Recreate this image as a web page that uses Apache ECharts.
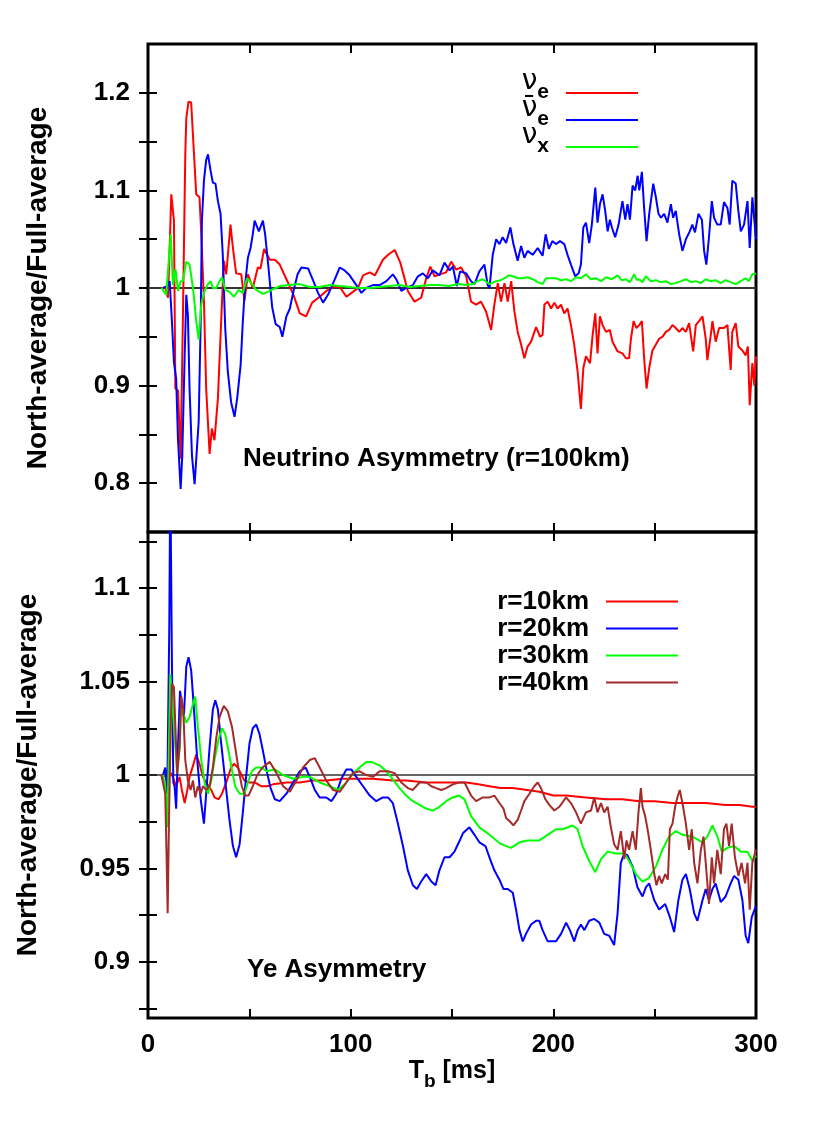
<!DOCTYPE html>
<html>
<head>
<meta charset="utf-8">
<script src="https://cdn.jsdelivr.net/npm/echarts@6/dist/echarts.min.js"></script>
<style>html,body{margin:0;padding:0;background:#fff}#c{width:830px;height:1140px}</style>
</head>
<body>
<div id="c"></div>
<script>
// ---------- tick labels ----------
const xTicks = [0, 50, 100, 150, 200, 250, 300];
const xLabels = [0, 100, 200, 300];
const yTopTicks = [0.8, 0.85, 0.9, 0.95, 1.0, 1.05, 1.1, 1.15, 1.2];
const yTopLabels = [0.8, 0.9, 1.0, 1.1, 1.2];
const yBotTicks = [0.875, 0.9, 0.925, 0.95, 0.975, 1.0, 1.025, 1.05, 1.075, 1.1, 1.125];
const yBotLabels = [0.9, 0.95, 1.0, 1.05, 1.1];
const refLine = [[0, 1], [300, 1]];

// ---------- top panel: Neutrino asymmetry (r=100km) ----------
const nuE = [[6.5,1.0],[8.5,1.0],[9.9,0.99],[11.5,1.096],[12.8,1.069],[13.5,0.897],[14.8,0.895],[16.1,0.825],[17.2,0.966],[18.4,1.137],[18.9,1.174],[20.0,1.191],[21.3,1.19],[22.7,1.137],[23.8,1.096],[25.4,1.093],[26.3,1.055],[27.6,0.987],[28.7,0.897],[30.4,0.83],[31.5,0.856],[32.8,0.844],[34.5,0.887],[36.1,0.966],[37.4,1.028],[38.6,1.014],[40.7,1.065],[41.9,1.041],[43.5,1.015],[46.0,1.014],[47.6,0.987],[49.3,1.014],[51.7,1.0],[54.2,1.021],[55.5,1.02],[57.3,1.04],[60.1,1.029],[62.6,1.029],[65.0,1.024],[68.3,1.009],[71.6,0.994],[74.9,0.974],[78.0,0.971],[81.0,0.985],[84.7,0.991],[88.0,0.997],[91.3,1.001],[94.6,1.001],[97.9,0.991],[101.1,0.996],[103.6,1.0],[106.1,1.013],[109.4,1.016],[112.0,1.013],[115.9,1.029],[118.5,1.034],[121.7,1.039],[124.5,1.026],[128.2,0.997],[131.5,0.986],[134.8,0.99],[137.3,1.01],[139.3,1.022],[141.4,1.012],[144.0,1.014],[147.1,1.016],[149.6,1.027],[152.0,1.019],[154.5,1.021],[157.0,1.012],[159.4,0.986],[161.9,0.983],[164.3,0.986],[166.8,0.976],[169.3,0.957],[170.9,0.983],[172.6,1.005],[174.2,0.986],[175.9,1.005],[177.5,0.986],[179.2,1.007],[180.8,0.976],[182.4,0.955],[184.1,0.942],[185.7,0.928],[187.3,0.94],[189.0,0.945],[191.5,0.96],[193.5,0.95],[194.7,0.952],[195.6,0.983],[197.2,0.986],[198.9,0.979],[200.5,0.985],[202.1,0.979],[203.8,0.983],[205.4,0.974],[207.0,0.979],[208.7,0.962],[210.3,0.942],[212.0,0.914],[213.6,0.876],[214.8,0.918],[216.1,0.93],[218.1,0.923],[219.4,0.952],[220.7,0.974],[221.8,0.933],[223.0,0.971],[224.3,0.962],[226.0,0.955],[227.9,0.957],[229.2,0.945],[231.7,0.935],[234.1,0.933],[235.8,0.928],[237.4,0.928],[238.3,0.948],[239.6,0.966],[241.0,0.959],[242.4,0.962],[243.7,0.966],[244.8,0.928],[246.0,0.897],[247.3,0.918],[248.9,0.936],[250.6,0.942],[252.2,0.948],[253.8,0.95],[255.5,0.955],[257.1,0.957],[258.8,0.962],[260.4,0.959],[262.1,0.955],[263.7,0.959],[265.4,0.955],[267.0,0.964],[269.0,0.935],[270.3,0.962],[271.9,0.966],[273.6,0.971],[275.2,0.948],[276.0,0.926],[277.7,0.952],[278.5,0.966],[280.1,0.945],[281.8,0.959],[284.2,0.959],[285.9,0.962],[287.5,0.916],[288.3,0.955],[290.0,0.964],[291.3,0.94],[293.3,0.936],[294.9,0.931],[296.0,0.94],[296.9,0.88],[298.2,0.923],[299.2,0.9],[300,0.93]];

const nuEbar = [[7.4,1.0],[9.5,1.002],[10.7,1.007],[11.8,0.966],[12.8,0.924],[13.9,0.907],[14.8,0.845],[16.1,0.794],[16.9,0.828],[18.1,0.931],[18.9,0.993],[19.7,0.972],[20.5,0.897],[21.7,0.828],[23.0,0.799],[23.8,0.8],[25.0,0.863],[26.0,0.966],[26.6,1.069],[27.6,1.11],[28.7,1.131],[29.6,1.137],[30.9,1.12],[32.0,1.108],[33.3,1.107],[34.5,1.089],[35.8,1.076],[36.9,1.034],[38.1,0.959],[39.4,0.914],[41.0,0.883],[42.7,0.868],[44.0,0.887],[45.7,0.921],[46.8,0.966],[47.9,1.003],[49.3,1.031],[50.6,1.041],[51.7,1.055],[52.6,1.069],[53.4,1.069],[54.7,1.058],[56.7,1.069],[57.8,1.055],[59.3,1.024],[61.3,0.98],[63.0,0.963],[65.0,0.96],[66.3,0.95],[68.3,0.971],[70.0,0.979],[71.6,0.995],[73.8,1.014],[75.7,1.021],[79.0,1.02],[81.4,1.008],[83.9,0.995],[86.4,0.985],[88.8,0.993],[92.0,1.008],[94.6,1.021],[97.0,1.018],[99.5,1.013],[102.8,1.003],[105.3,0.995],[107.7,1.0],[111.0,1.003],[114.3,1.003],[117.6,1.007],[120.8,1.014],[122.5,1.009],[125.0,0.997],[127.4,1.0],[130.7,1.003],[133.2,1.012],[135.6,1.015],[138.1,1.01],[140.5,1.018],[143.8,1.013],[146.3,1.026],[148.8,1.018],[150.4,1.022],[152.4,1.002],[154.0,1.017],[157.0,1.015],[159.4,1.007],[161.1,1.004],[163.5,1.017],[166.0,1.024],[167.6,1.003],[168.5,1.0],[170.1,1.034],[171.8,1.05],[173.4,1.045],[175.0,1.052],[176.7,1.046],[178.8,1.062],[180.3,1.045],[182.4,1.028],[184.1,1.043],[185.7,1.031],[187.3,1.038],[189.8,1.034],[192.3,1.041],[194.7,1.033],[196.2,1.055],[197.8,1.04],[199.5,1.048],[201.3,1.045],[203.3,1.048],[205.4,1.045],[207.0,1.034],[208.7,1.024],[210.8,1.012],[212.5,1.015],[213.6,1.024],[214.8,1.062],[216.1,1.067],[217.7,1.046],[219.0,1.065],[220.7,1.103],[221.8,1.067],[223.0,1.086],[224.3,1.096],[225.6,1.079],[226.8,1.058],[227.9,1.07],[228.9,1.062],[230.5,1.052],[232.2,1.065],[233.3,1.079],[234.1,1.089],[235.5,1.07],[236.6,1.086],[237.8,1.07],[239.1,1.105],[240.4,1.1],[241.6,1.115],[242.4,1.1],[243.7,1.119],[244.8,1.082],[246.0,1.048],[247.3,1.076],[249.3,1.107],[250.6,1.093],[251.9,1.076],[253.1,1.072],[254.7,1.076],[256.3,1.067],[258.0,1.086],[259.1,1.072],[260.4,1.079],[262.1,1.055],[263.7,1.038],[265.4,1.05],[267.3,1.058],[268.6,1.065],[269.9,1.057],[271.6,1.076],[273.3,1.07],[274.4,1.038],[275.5,1.024],[276.8,1.052],[278.2,1.089],[279.3,1.072],[280.9,1.065],[282.6,1.065],[284.2,1.088],[285.9,1.082],[287.0,1.065],[288.3,1.11],[290.0,1.107],[291.3,1.079],[292.5,1.058],[294.1,1.065],[295.8,1.089],[296.9,1.041],[298.2,1.093],[300,1.05]];

const nuX = [[6.6,1.0],[9.0,0.993],[11.2,1.055],[12.3,1.003],[13.6,1.019],[14.8,0.997],[16.1,1.007],[17.2,1.007],[18.9,1.027],[20.5,1.024],[22.2,1.0],[23.8,0.966],[25.0,0.947],[26.3,0.983],[27.6,0.995],[29.2,1.003],[30.9,1.007],[32.0,1.0],[33.7,1.0],[35.3,1.007],[36.5,1.011],[38.1,0.998],[40.2,0.996],[42.4,0.991],[44.7,0.998],[46.8,0.995],[48.9,1.01],[50.9,1.005],[53.4,0.998],[56.7,0.994],[59.1,0.996],[62.0,0.999],[65.0,1.002],[69.9,1.003],[74.9,1.004],[79.8,1.001],[84.7,1.001],[89.7,1.003],[94.6,1.002],[99.5,1.001],[104.4,1.0],[109,1.0],[114.3,1.001],[119,1.002],[124.1,1.003],[129,1.001],[134.0,1.002],[139,1.003],[143.8,1.003],[148.5,1.002],[153.4,1.004],[157,1.003],[160.3,1.004],[162.5,1.007],[165.2,1.009],[168.5,1.004],[171.8,1.007],[174,1.008],[176.7,1.011],[178,1.013],[180.0,1.012],[182.5,1.01],[184.9,1.01],[187.3,1.011],[189.8,1.009],[192.2,1.006],[194.7,1.004],[196.4,1.01],[199.7,1.01],[201.3,1.01],[203.8,1.008],[206.3,1.009],[208.7,1.007],[211.2,1.011],[213.6,1.01],[216.1,1.014],[218.5,1.009],[221.0,1.01],[223.5,1.007],[226.0,1.011],[228.8,1.009],[231.7,1.013],[233.8,1.008],[235.8,1.009],[237.8,1.006],[239.9,1.014],[241.2,1.008],[242.4,1.009],[244.0,1.006],[245.6,1.012],[248.1,1.007],[250.6,1.008],[253,1.006],[255.5,1.007],[258,1.004],[260.4,1.005],[263,1.007],[265.4,1.009],[268,1.006],[270.3,1.007],[272.7,1.005],[275.2,1.009],[277.6,1.007],[280.1,1.008],[282.5,1.005],[285.0,1.008],[287.5,1.006],[290.0,1.004],[292.5,1.007],[294.9,1.01],[296.5,1.007],[298.2,1.014],[300,1.015]];

// ---------- bottom panel: Ye asymmetry ----------
const r10 = [[6.6,1.0],[9.0,0.999],[11.5,1.001],[13.9,0.994],[15.6,0.999],[16.7,0.992],[18.1,0.985],[19.4,0.992],[20.5,0.999],[22.2,1.005],[23.8,1.011],[25.4,1.006],[27.1,0.999],[28.7,0.996],[31.2,0.992],[32.8,0.988],[34.8,0.987],[36.5,0.99],[38.6,0.996],[41.0,1.004],[42.4,1.006],[44.3,1.004],[47.6,0.997],[50.1,0.996],[52.6,0.996],[55.8,0.994],[58.8,0.994],[61.7,0.995],[68.3,0.996],[74.9,0.996],[81.4,0.997],[88.0,0.997],[96.2,0.998],[104.4,0.998],[111,0.998],[120.8,0.997],[127.4,0.997],[137.3,0.996],[143.8,0.996],[153.7,0.996],[157,0.996],[163,0.995],[168.5,0.994],[174,0.993],[180.0,0.993],[187,0.992],[193.1,0.991],[200,0.989],[206.3,0.989],[216,0.988],[226.0,0.987],[234,0.987],[242.4,0.986],[250,0.986],[258.8,0.985],[267,0.985],[275.2,0.985],[285,0.984],[292,0.984],[298.2,0.983],[300,0.983]];

const r20 = [[7.4,1.0],[8.5,1.004],[9.5,0.99],[10.5,1.079],[11.0,1.16],[11.8,1.061],[12.5,0.996],[13.1,0.994],[13.9,0.982],[14.8,1.015],[15.8,1.045],[16.7,1.044],[17.7,1.031],[18.9,1.058],[20.0,1.063],[21.3,1.056],[22.7,1.035],[24.3,1.008],[26.0,0.987],[27.6,0.974],[28.7,0.99],[30.4,1.015],[32.0,1.035],[33.2,1.04],[34.5,1.035],[36.1,1.017],[38.1,0.997],[40.2,0.976],[41.9,0.962],[43.5,0.956],[45.2,0.963],[46.8,0.98],[48.4,0.999],[50.1,1.017],[51.7,1.025],[53.4,1.027],[55.0,1.022],[56.7,1.013],[58.8,1.001],[60.5,0.993],[62.6,0.987],[65.0,0.986],[68.3,0.99],[71.6,0.996],[74.9,1.002],[77.8,1.004],[79.8,0.999],[82.3,0.992],[84.7,0.988],[88.0,0.988],[90.5,0.986],[92.9,0.99],[95.4,0.998],[97.9,1.003],[100.3,1.003],[102.8,0.999],[106.1,0.994],[109.4,0.989],[112.6,0.986],[115.9,0.988],[118.4,0.988],[120.8,0.985],[123.3,0.974],[125.8,0.962],[128.2,0.949],[130.7,0.941],[132.7,0.939],[134.8,0.943],[137.3,0.947],[139.8,0.943],[141.9,0.941],[143.8,0.949],[146.3,0.956],[148.8,0.956],[151.2,0.959],[153.4,0.964],[155.5,0.969],[157.5,0.971],[158.6,0.972],[161.1,0.968],[163.5,0.964],[166.5,0.962],[168.8,0.955],[170.9,0.949],[173.4,0.944],[175.4,0.939],[177.5,0.939],[180.0,0.937],[181.6,0.928],[183.3,0.917],[184.9,0.911],[186.5,0.915],[189.0,0.92],[191.5,0.922],[193.1,0.922],[194.7,0.917],[197.2,0.911],[198.5,0.911],[201.3,0.911],[203.8,0.915],[206.3,0.921],[208.2,0.917],[210.3,0.911],[212.0,0.917],[213.6,0.92],[215.3,0.917],[217.7,0.922],[220.2,0.923],[222.7,0.921],[225.1,0.915],[227.6,0.914],[230.0,0.909],[231.7,0.926],[233.3,0.953],[235.0,0.958],[236.6,0.957],[239.1,0.951],[241.5,0.94],[244.0,0.935],[245.7,0.94],[247.3,0.942],[249.8,0.933],[252.2,0.928],[255.2,0.931],[257.5,0.924],[259.6,0.916],[261.7,0.933],[263.7,0.944],[265.4,0.947],[267.3,0.939],[269.5,0.926],[271.1,0.922],[273.6,0.933],[275.2,0.939],[276.8,0.933],[278.5,0.939],[280.1,0.942],[282.6,0.932],[285.0,0.935],[287.5,0.942],[289.2,0.946],[291.3,0.944],[293.3,0.933],[294.9,0.914],[296.2,0.91],[297.9,0.924],[300,0.93]];

const r30 = [[7.4,1.0],[8.5,0.994],[9.5,0.972],[10.2,1.008],[11.0,1.054],[11.8,1.053],[12.8,1.026],[13.5,1.015],[14.4,1.001],[15.6,1.015],[16.4,1.038],[17.4,1.033],[18.9,1.028],[20.5,1.031],[22.2,1.038],[23.3,1.042],[24.6,1.026],[26.3,1.008],[27.9,0.996],[29.6,0.99],[31.2,0.997],[32.8,1.008],[34.8,1.019],[36.5,1.025],[38.1,1.022],[39.7,1.013],[41.4,1.003],[43.0,0.994],[45.2,0.99],[47.6,0.99],[49.3,0.996],[51.2,1.002],[53.4,1.004],[55.8,1.004],[58.6,1.002],[62.6,1.003],[66.7,1.0],[71.6,0.998],[76.5,0.999],[79.8,0.999],[84.7,0.996],[89.7,0.994],[93.8,0.992],[97.0,0.995],[100.5,1.0],[104.4,1.004],[107.7,1.007],[110.2,1.007],[114.5,1.005],[117.6,1.002],[120.5,0.998],[124.1,0.993],[127.4,0.989],[130.7,0.986],[134.0,0.984],[137.3,0.982],[140.5,0.981],[143.8,0.983],[147.1,0.986],[150.4,0.988],[153.5,0.989],[156.2,0.987],[159.4,0.978],[163.5,0.972],[168.5,0.968],[174.2,0.963],[179.1,0.961],[183.3,0.964],[187.3,0.965],[193.1,0.965],[197.2,0.968],[201.3,0.971],[204.6,0.971],[209.5,0.973],[212.0,0.971],[214.4,0.962],[217.7,0.954],[220.7,0.948],[223.5,0.955],[226.8,0.959],[230.9,0.958],[235.0,0.958],[237.4,0.954],[240.7,0.947],[244.0,0.943],[247.3,0.945],[250.6,0.951],[253.8,0.96],[257.1,0.967],[260.4,0.97],[263.7,0.968],[268.6,0.967],[273.6,0.964],[276.0,0.967],[278.5,0.973],[281.0,0.967],[283.1,0.959],[285.9,0.961],[289.2,0.962],[292.5,0.959],[295.8,0.959],[298.2,0.954],[300,0.957]];

const r40 = [[6.6,1.0],[8.5,0.99],[9.2,0.955],[9.7,0.926],[10.3,0.972],[11.2,1.026],[11.8,1.049],[12.8,1.047],[13.5,1.026],[14.4,1.001],[15.6,1.015],[16.4,1.042],[17.4,1.035],[18.4,1.008],[19.7,0.997],[21.0,0.992],[22.2,0.997],[23.3,0.988],[24.6,0.994],[26.0,0.99],[27.1,0.994],[28.7,0.992],[30.4,0.994],[32.0,1.004],[33.7,1.02],[35.3,1.031],[37.4,1.037],[39.4,1.034],[41.4,1.026],[43.0,1.015],[44.7,1.003],[46.3,0.994],[47.9,0.989],[49.6,0.989],[51.7,0.994],[53.9,1.0],[56.5,1.004],[60.1,1.007],[63.4,1.001],[66.7,0.994],[70.0,0.991],[73.2,0.997],[76.5,1.004],[79.8,1.008],[82.3,1.009],[84.7,1.004],[88.0,0.997],[91.3,0.992],[94.6,0.991],[97.9,0.996],[101.1,1.001],[104.4,1.002],[107.7,1.0],[111.0,0.999],[114.3,1.002],[118.4,1.002],[121.7,1.001],[125.0,0.996],[128.2,0.993],[130.7,0.992],[134.0,0.996],[137.3,0.996],[139.8,0.994],[142.2,0.993],[144.7,0.992],[147.1,0.993],[150.4,0.995],[153.4,0.996],[156.2,0.996],[159.4,0.989],[161.9,0.986],[165.2,0.988],[168.5,0.988],[170.9,0.989],[173.4,0.985],[175.4,0.982],[176.7,0.977],[178.7,0.975],[180.3,0.973],[182.4,0.976],[184.1,0.981],[185.7,0.986],[188.2,0.99],[190.6,0.994],[192.3,0.996],[193.9,0.993],[196.1,0.987],[198.0,0.984],[200.5,0.981],[203.0,0.983],[206.3,0.988],[208.7,0.985],[211.2,0.98],[213.6,0.974],[216.1,0.98],[218.6,0.981],[220.2,0.988],[221.8,0.98],[223.5,0.985],[225.1,0.98],[226.8,0.983],[228.4,0.972],[230.0,0.963],[231.7,0.96],[233.3,0.97],[235.0,0.955],[236.1,0.965],[237.4,0.96],[239.1,0.97],[240.7,0.96],[242.0,0.98],[243.2,0.993],[244.0,0.983],[245.3,0.978],[246.5,0.971],[248.1,0.96],[249.8,0.947],[250.9,0.941],[252.2,0.946],[253.5,0.942],[255.2,0.947],[256.5,0.944],[257.5,0.971],[258.8,0.974],[260.1,0.983],[261.2,0.988],[262.4,0.992],[263.7,0.985],[265.4,0.974],[267.0,0.96],[268.3,0.971],[269.5,0.953],[271.1,0.942],[272.8,0.96],[274.1,0.967],[275.2,0.953],[276.8,0.931],[278.2,0.956],[279.3,0.942],[280.9,0.96],[282.6,0.947],[284.2,0.971],[285.4,0.974],[286.7,0.962],[288.0,0.974],[289.6,0.956],[291.3,0.946],[292.9,0.953],[294.6,0.942],[295.8,0.953],[296.9,0.928],[298.2,0.953],[300,0.96]];

// ---------- chart ----------
const FONT = "'Liberation Sans', Arial, Helvetica, sans-serif";
const fmtNum = v => String(+(+v).toFixed(3));
const legendText = {
  nue: '{n|ν}{s|e}', nuebar: '{n|ν̄}{s|e}', nux: '{n|ν}{s|x}',
  'r=10km': 'r=10km', 'r=20km': 'r=20km', 'r=30km': 'r=30km', 'r=40km': 'r=40km'
};

function xAx(grid, pos, withLabels) {
  return {
    type: 'value', gridIndex: grid, position: pos, min: 0, max: 300,
    axisLine: { show: false }, splitLine: { show: false },
    axisTick: { show: true, inside: true, length: 9, lineStyle: { color: '#000', width: 2 }, customValues: xTicks },
    axisLabel: { show: withLabels, customValues: xLabels, margin: 14, color: '#000',
      fontSize: 26, fontWeight: 'bold', fontFamily: FONT, formatter: fmtNum }
  };
}
function yAx(grid, pos, min, max, ticks, labels, withLabels) {
  return {
    type: 'value', gridIndex: grid, position: pos, min: min, max: max,
    axisLine: { show: false }, splitLine: { show: false },
    axisTick: { show: true, inside: true, length: 9, lineStyle: { color: '#000', width: 2 }, customValues: ticks },
    axisLabel: { show: withLabels, customValues: labels, margin: 18, color: '#000',
      fontSize: 26, fontWeight: 'bold', fontFamily: FONT, formatter: fmtNum }
  };
}
const xAxes = [xAx(0, 'bottom', false), xAx(0, 'top', false), xAx(1, 'bottom', true), xAx(1, 'top', false)];
xAxes[2].name = '{t|T}{s|b}{t| [ms]}';
xAxes[2].nameLocation = 'middle';
xAxes[2].nameGap = 48;
xAxes[2].nameTextStyle = { color: '#000', rich: {
  t: { fontSize: 25, fontWeight: 'bold', fontFamily: FONT, lineHeight: 24, verticalAlign: 'bottom', padding: [0, 0, 7, 0] },
  s: { fontSize: 19, fontWeight: 'bold', fontFamily: FONT, lineHeight: 24, verticalAlign: 'bottom' } } };

const yAxes = [
  yAx(0, 'left', 0.75, 1.25, yTopTicks, yTopLabels, true),
  yAx(0, 'right', 0.75, 1.25, yTopTicks, yTopLabels, false),
  yAx(1, 'left', 0.87, 1.13, yBotTicks, yBotLabels, true),
  yAx(1, 'right', 0.87, 1.13, yBotTicks, yBotLabels, false)
];
const yName = { color: '#000', fontSize: 28, fontWeight: 'bold', fontFamily: FONT };
yAxes[0].name = 'North-average/Full-average'; yAxes[0].nameLocation = 'middle'; yAxes[0].nameGap = 96; yAxes[0].nameTextStyle = yName;
yAxes[2].name = 'North-average/Full-average'; yAxes[2].nameLocation = 'middle'; yAxes[2].nameGap = 106; yAxes[2].nameTextStyle = yName;

function ser(name, data, xi, yi, color, z) {
  return { name: name, type: 'line', data: data, xAxisIndex: xi, yAxisIndex: yi, symbol: 'none',
    lineStyle: { color: color, width: 2 }, itemStyle: { color: color }, z: z || 2, silent: true };
}
const legendRich = {
  n: { fontSize: 28, fontFamily: "'DejaVu Sans', sans-serif", lineHeight: 20, verticalAlign: 'bottom', padding: [0, 0, 7, 0], color: '#000' },
  s: { fontSize: 21, fontWeight: 'bold', fontFamily: FONT, lineHeight: 20, verticalAlign: 'bottom', color: '#000' }
};

const option = {
  animation: false,
  backgroundColor: '#fff',
  grid: [
    { left: 148, top: 44, width: 608, height: 488, show: true, borderColor: '#000', borderWidth: 3, backgroundColor: 'transparent' },
    { left: 148, top: 532, width: 608, height: 486, show: true, borderColor: '#000', borderWidth: 3, backgroundColor: 'transparent' }
  ],
  title: [
    { text: 'Neutrino Asymmetry (r=100km)', left: 243, top: 446, padding: 0,
      textStyle: { fontSize: 26, fontWeight: 'bold', fontFamily: FONT, color: '#000' } },
    { text: 'Ye Asymmetry', left: 247, top: 957, padding: 0,
      textStyle: { fontSize: 26, fontWeight: 'bold', fontFamily: FONT, color: '#000' } }
  ],
  legend: [
    { data: ['nue', 'nuebar', 'nux'], orient: 'vertical', align: 'right', right: 192, top: 68, padding: 0,
      icon: 'rect', itemWidth: 72, itemHeight: 2, itemGap: -8, selectedMode: false,
      formatter: n => legendText[n], textStyle: { padding: [0, 12, 0, 0], rich: legendRich } },
    { data: ['r=10km', 'r=20km', 'r=30km', 'r=40km'], orient: 'vertical', align: 'right', right: 152, top: 588, padding: 0,
      icon: 'rect', itemWidth: 72, itemHeight: 2, itemGap: 0, selectedMode: false,
      formatter: n => legendText[n],
      textStyle: { padding: [0, 12, 0, 0], fontSize: 26, fontWeight: 'bold', fontFamily: FONT, color: '#000', lineHeight: 27 } }
  ],
  xAxis: xAxes,
  yAxis: yAxes,
  series: [
    ser('ref1', refLine, 0, 0, '#333', 1),
    ser('nue', nuE, 0, 0, '#ff0000'),
    ser('nuebar', nuEbar, 0, 0, '#0000ff'),
    ser('nux', nuX, 0, 0, '#00ff00'),
    ser('ref2', refLine, 2, 2, '#333', 1),
    ser('r=10km', r10, 2, 2, '#ff0000'),
    ser('r=20km', r20, 2, 2, '#0000ff'),
    ser('r=30km', r30, 2, 2, '#00ff00'),
    ser('r=40km', r40, 2, 2, '#a52a2a')
  ]
};
option.series[0].lineStyle.width = 2;
option.series[4].lineStyle.width = 1.5;

const chart = echarts.init(document.getElementById('c'), null, { renderer: 'canvas' });
chart.setOption(option);
</script>
</body>
</html>
